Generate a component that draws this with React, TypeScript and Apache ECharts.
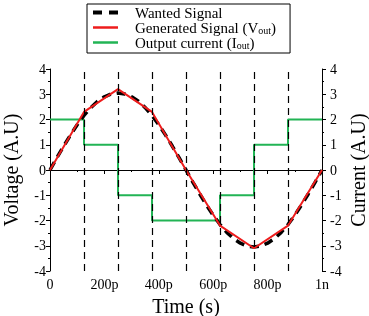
import React, { useEffect, useRef } from "react";
import * as echarts from "echarts";

const wantedTimes = [0, 25, 50, 75, 100, 125, 150, 175, 200, 225, 250, 275, 300, 325, 350, 375, 400, 425, 450, 475, 500, 525, 550, 575, 600, 625, 650, 675, 700, 725, 750, 775, 800, 825, 850, 875, 900, 925, 950, 975, 1000];
const wantedValues = [0, 0.48, 0.94, 1.38, 1.79, 2.16, 2.47, 2.72, 2.9, 3.01, 3.05, 3.01, 2.9, 2.72, 2.47, 2.16, 1.79, 1.38, 0.94, 0.48, 0, -0.48, -0.94, -1.38, -1.79, -2.16, -2.47, -2.72, -2.9, -3.01, -3.05, -3.01, -2.9, -2.72, -2.47, -2.16, -1.79, -1.38, -0.94, -0.48, 0];
const edgeTimes = [0, 125, 250, 375, 500, 625, 750, 875, 1000];
const generatedValues = [0, 2.3, 3.2, 2.3, 0, -2.2, -3.1, -2.2, 0];
const currentLevels = [2, 1, -1, -2, -2, -1, 1, 2, 2];
const dividerTimes = [125, 250, 375, 500, 625, 750, 875];
const seriesNames = ["Wanted Signal", "Generated Signal (V", "Output current (I"];
const rightAxisTitle = "Current (A.U)";

const FONT = "Liberation Serif";

export default function App() {
  const ref = useRef<HTMLDivElement>(null);
  useEffect(() => {
    const chart = echarts.init(ref.current!, null, { renderer: "svg" });
    const axisCommon = {
      axisLine: { show: true, lineStyle: { color: "#000", width: 1 } },
      axisTick: { show: true, length: 4, lineStyle: { color: "#000" } },
      minorTick: { show: true, splitNumber: 2, length: 2, lineStyle: { color: "#000" } },
      splitLine: { show: false },
      axisLabel: { color: "#000", fontFamily: FONT, fontSize: 14 },
      nameTextStyle: { color: "#000", fontFamily: FONT, fontSize: 20 },
    };
    chart.setOption({
      animation: false,
      grid: { left: 50, right: 47, top: 69, bottom: 45, outerBoundsMode: "none", containLabel: false },
      legend: {
        left: 87,
        top: 4,
        orient: "vertical",
        borderColor: "#000",
        borderWidth: 1,
        padding: [1, 14, 3, 6],
        itemGap: 0,
        itemWidth: 25,
        itemHeight: 4,
        data: [
          { name: seriesNames[0], icon: "path://M0 0h9v4H0z M16 0h9v4H16z" },
          { name: seriesNames[1], icon: "path://M0 0h25v2.5H0z" },
          { name: seriesNames[2], icon: "path://M0 0h25v2.5H0z" },
        ],
        formatter: (name: string) => {
          if (name === seriesNames[0]) return "{p|}{a|" + name + "}";
          return "{p|}{a|" + name + "}{s|out}{a|)}";
        },
        textStyle: {
          color: "#000",
          fontFamily: FONT,
          fontSize: 15,
          lineHeight: 15,
          rich: {
            p: { width: 12 },
            a: { fontFamily: FONT, fontSize: 15, color: "#000", lineHeight: 15 },
            s: { fontFamily: FONT, fontSize: 10, color: "#000", verticalAlign: "bottom", lineHeight: 15, padding: [4, 0, 0, 0] },
          },
        },
      },
      graphic: [
        {
          type: "text",
          x: 358,
          y: 170,
          rotation: Math.PI / 2,
          style: {
            text: rightAxisTitle,
            fill: "#000",
            font: "20px Liberation Serif",
            align: "center",
            verticalAlign: "middle",
          },
        },
      ],
      xAxis: {
        type: "value",
        min: 0,
        max: 1000,
        interval: 200,
        name: "Time (s)",
        nameLocation: "middle",
        nameGap: 18,
        ...axisCommon,
        axisLabel: {
          ...axisCommon.axisLabel,
          margin: 6,
          formatter: (v: number) => (v === 0 ? "0" : v === 1000 ? "1n" : v + "p"),
        },
      },
      yAxis: [
        {
          type: "value",
          min: -4,
          max: 4,
          interval: 1,
          position: "left",
          name: "Voltage (A.U)",
          nameLocation: "middle",
          nameGap: 29,
          ...axisCommon,
          axisLabel: { ...axisCommon.axisLabel, margin: 4 },
        },
        {
          type: "value",
          min: -4,
          max: 4,
          interval: 1,
          position: "right",
          ...axisCommon,
          axisLabel: { ...axisCommon.axisLabel, margin: 8 },
        },
      ],
      series: [
        {
          name: seriesNames[2],
          type: "line",
          yAxisIndex: 1,
          step: "end",
          showSymbol: false,
          symbol: "none",
          data: edgeTimes.map((t, i) => [t, currentLevels[i]]),
          lineStyle: { color: "#22b455", width: 2 },
          itemStyle: { color: "#22b455" },
          markLine: {
            silent: true,
            symbol: "none",
            label: { show: false },
            lineStyle: { color: "#000", width: 1.2, type: [7, 5] },
            data: dividerTimes.map((t) => ({ xAxis: t })),
          },
        },
        {
          name: seriesNames[0],
          type: "line",
          showSymbol: false,
          symbol: "none",
          data: wantedTimes.map((t, i) => [t, wantedValues[i]]),
          lineStyle: { color: "#000", width: 3.5, type: [9, 6] },
          itemStyle: { color: "#000" },
        },
        {
          name: seriesNames[1],
          type: "line",
          showSymbol: false,
          symbol: "none",
          data: edgeTimes.map((t, i) => [t, generatedValues[i]]),
          lineStyle: { color: "#ee1c1c", width: 2 },
          itemStyle: { color: "#ee1c1c" },
        },
      ],
    });
    return () => chart.dispose();
  }, []);
  return <div ref={ref} style={{ position: "fixed", left: 0, top: 0, width: 369, height: 316 }} />;
}
